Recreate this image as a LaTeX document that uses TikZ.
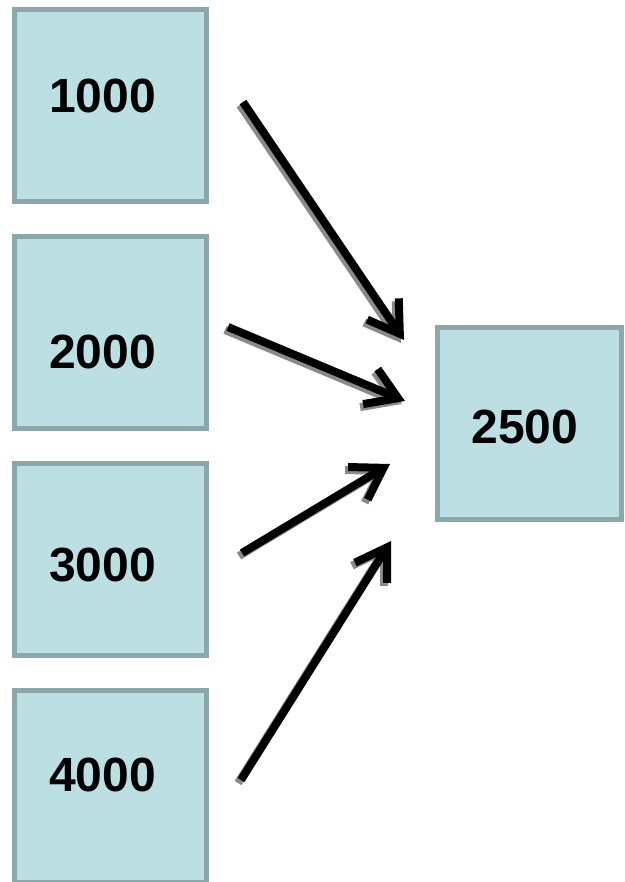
\documentclass[tikz,border=0pt]{standalone}
\usepackage{fontspec}
\setmainfont{Liberation Sans}
\usetikzlibrary{arrows.meta}
\definecolor{boxfill}{HTML}{BBDFE3}
\definecolor{boxline}{HTML}{8BA7A9}
\definecolor{shadowgray}{HTML}{8A8A8A}
\tikzset{
  valbox/.style={draw=boxline, fill=boxfill, line width=5pt, minimum width=192pt, minimum height=192pt, inner sep=0pt},
  valtext/.style={font=\fontsize{48}{48}\selectfont\bfseries, inner sep=0pt, anchor=center},
  bigarrow/.style={line width=8pt, -{Straight Barb[length=30pt,width=38pt]}},
  arrowshadow/.style={bigarrow, draw=shadowgray}
}
\begin{document}
\begin{tikzpicture}[x=1pt,y=-1pt]
\useasboundingbox (0,0) rectangle (624,882);
\clip (0,0) rectangle (624,882);
\fill[white] (0,0) rectangle (624,882);
% boxes
\node[valbox] (b1) at (110.5,105.5) {};
\node[valbox] (b2) at (110.5,332.5) {};
\node[valbox] (b3) at (110.5,559.5) {};
\node[valbox] (b4) at (110.5,786.5) {};
\node[valbox, minimum width=184pt] (b5) at (529.5,423.5) {};
% texts
\node[valtext] (t1) at (102.5,96) {1000};
\node[valtext] (t2) at (102.5,352) {2000};
\node[valtext] (t3) at (102.5,565) {3000};
\node[valtext] (t4) at (102.5,775) {4000};
\node[valtext] (t5) at (525,427) {2500};
% arrow coordinates
\coordinate (s1) at (243,102);
\coordinate (e1) at (404,340);
\coordinate (s2) at (228,327);
\coordinate (e2) at (405,401);
\coordinate (s3) at (242,553);
\coordinate (e3) at (390,464);
\coordinate (s4) at (241,780);
\coordinate (e4) at (391,541);
% shadows
\foreach \i in {1,2,3,4}
  \draw[arrowshadow] ([shift={(-3,3)}]s\i) -- ([shift={(-3,3)}]e\i);
% arrows
\draw[bigarrow] (s1) -- (e1);
\draw[bigarrow] (s2) -- (e2);
\draw[bigarrow] (s3) -- (e3);
\draw[bigarrow] (s4) -- (e4);
\end{tikzpicture}
\end{document}
